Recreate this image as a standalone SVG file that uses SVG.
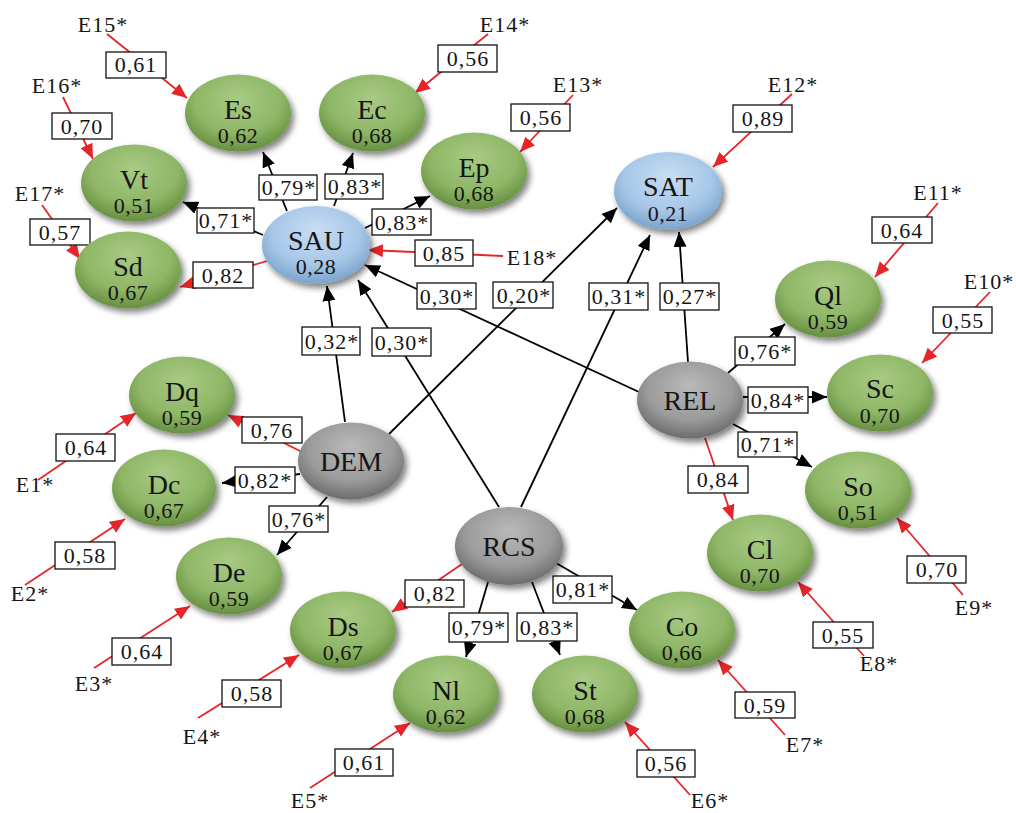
<svg xmlns="http://www.w3.org/2000/svg" width="1016" height="813" viewBox="0 0 1016 813" font-family="'Liberation Serif', 'DejaVu Serif', serif">
<style>
text{font-family:'Liberation Serif','DejaVu Serif',serif;fill:#151515}
.lb{font-size:28px;text-anchor:middle}
.vl{font-size:22px;text-anchor:middle;letter-spacing:0.5px}
.bt{font-size:22px;text-anchor:middle;letter-spacing:1px}
.et{font-size:22px;text-anchor:middle;letter-spacing:1px}
.bx{fill:#fff;stroke:#111;stroke-width:1.3}
.k{stroke:#000;stroke-width:1.8;fill:none;marker-end:url(#ak)}
.r{stroke:#e5252a;stroke-width:1.8;fill:none;marker-end:url(#ar)}
.g{fill:url(#gg);filter:url(#sh)}
.b{fill:url(#gb);filter:url(#sh)}
.y{fill:url(#gy);filter:url(#sh)}
</style>
<defs>
<marker id="ak" markerWidth="16" markerHeight="14" refX="15" refY="6.5" orient="auto" markerUnits="userSpaceOnUse"><path d="M0,0 L15,6.5 L0,13 z" fill="#000"/></marker>
<marker id="ar" markerWidth="16" markerHeight="14" refX="15" refY="6.5" orient="auto" markerUnits="userSpaceOnUse"><path d="M0,0 L15,6.5 L0,13 z" fill="#e5252a"/></marker>
<radialGradient id="gg" cx="50%" cy="38%" r="62%" fx="50%" fy="30%"><stop offset="0" stop-color="#a8ca84"/><stop offset="0.65" stop-color="#8fb767"/><stop offset="1" stop-color="#668f40"/></radialGradient>
<radialGradient id="gb" cx="50%" cy="38%" r="62%" fx="50%" fy="30%"><stop offset="0" stop-color="#c8ddf2"/><stop offset="0.65" stop-color="#a7c7e8"/><stop offset="1" stop-color="#7ba3cc"/></radialGradient>
<radialGradient id="gy" cx="50%" cy="38%" r="62%" fx="50%" fy="30%"><stop offset="0" stop-color="#b9b9b9"/><stop offset="0.65" stop-color="#9b9b9b"/><stop offset="1" stop-color="#6c6c6c"/></radialGradient>
<filter id="sh" x="-20%" y="-20%" width="150%" height="160%"><feGaussianBlur in="SourceAlpha" stdDeviation="3"/><feOffset dx="3" dy="4" result="o"/><feComponentTransfer><feFuncA type="linear" slope="0.5"/></feComponentTransfer><feMerge><feMergeNode/><feMergeNode in="SourceGraphic"/></feMerge></filter>
</defs>
<rect width="1016" height="813" fill="#fff"/>

<g id="connectors">
<line class="k" x1="287" y1="211" x2="263" y2="152"/><rect class="bx" x="259" y="175" width="58" height="25"/><text class="bt" x="289" y="195">0,79*</text>
<line class="k" x1="334" y1="206" x2="353" y2="153"/><rect class="bx" x="325" y="174" width="58" height="25"/><text class="bt" x="355" y="194">0,83*</text>
<line class="k" x1="365" y1="228" x2="430" y2="196"/><rect class="bx" x="372" y="209" width="59" height="26"/><text class="bt" x="402" y="230">0,83*</text>
<line class="k" x1="263" y1="235" x2="183" y2="202"/><rect class="bx" x="197" y="208" width="57" height="25"/><text class="bt" x="226" y="228">0,71*</text>
<line class="r" x1="267" y1="261" x2="180" y2="287"/><rect class="bx" x="193" y="262" width="60" height="26"/><text class="bt" x="223" y="283">0,82</text>
<line class="k" x1="345" y1="422" x2="327" y2="286"/><rect class="bx" x="302" y="327" width="58" height="28"/><text class="bt" x="332" y="349">0,32*</text>
<line class="k" x1="499" y1="507" x2="358" y2="280"/><rect class="bx" x="372" y="328" width="59" height="28"/><text class="bt" x="402" y="350">0,30*</text>
<line class="k" x1="639" y1="392" x2="365" y2="265"/>
<line class="k" x1="389" y1="434" x2="617" y2="208"/>
<line class="k" x1="521" y1="507" x2="650" y2="235"/>
<line class="k" x1="688" y1="362" x2="679" y2="232"/>
<rect class="bx" x="417" y="283" width="59" height="26"/><text class="bt" x="447" y="304">0,30*</text>
<rect class="bx" x="493" y="282" width="60" height="26"/><text class="bt" x="524" y="303">0,20*</text>
<rect class="bx" x="589" y="283" width="59" height="27"/><text class="bt" x="619" y="304">0,31*</text>
<rect class="bx" x="660" y="283" width="59" height="27"/><text class="bt" x="690" y="304">0,27*</text>
<line class="k" x1="728" y1="373" x2="785" y2="324"/><rect class="bx" x="735" y="337" width="60" height="28"/><text class="bt" x="765" y="359">0,76*</text>
<line class="k" x1="743" y1="397" x2="827" y2="397"/><rect class="bx" x="748" y="387" width="60" height="26"/><text class="bt" x="778" y="408">0,84*</text>
<line class="k" x1="733" y1="424" x2="812" y2="467"/><rect class="bx" x="738" y="432" width="59" height="25"/><text class="bt" x="768" y="452">0,71*</text>
<line class="r" x1="705" y1="438" x2="733" y2="520"/><rect class="bx" x="688" y="466" width="60" height="27"/><text class="bt" x="718" y="487">0,84</text>
<line class="r" x1="302" y1="452" x2="228" y2="415"/><rect class="bx" x="242" y="417" width="60" height="26"/><text class="bt" x="272" y="438">0,76</text>
<line class="k" x1="300" y1="474" x2="222" y2="483"/><rect class="bx" x="235" y="467" width="60" height="26"/><text class="bt" x="265" y="488">0,82*</text>
<line class="k" x1="327" y1="497" x2="277" y2="555"/><rect class="bx" x="269" y="506" width="59" height="26"/><text class="bt" x="299" y="527">0,76*</text>
<line class="r" x1="462" y1="564" x2="392" y2="612"/><rect class="bx" x="405" y="580" width="59" height="27"/><text class="bt" x="435" y="601">0,82</text>
<line class="k" x1="488" y1="582" x2="466" y2="657"/><rect class="bx" x="449" y="613" width="59" height="29"/><text class="bt" x="479" y="635">0,79*</text>
<line class="k" x1="532" y1="582" x2="560" y2="655"/><rect class="bx" x="517" y="613" width="60" height="28"/><text class="bt" x="547" y="635">0,83*</text>
<line class="k" x1="556" y1="563" x2="637" y2="610"/><rect class="bx" x="553" y="576" width="59" height="27"/><text class="bt" x="583" y="597">0,81*</text>
<line class="r" x1="107" y1="34" x2="187" y2="98"/><rect class="bx" x="106" y="52" width="60" height="26"/><text class="bt" x="136" y="72">0,61</text>
<line class="r" x1="488" y1="34" x2="415" y2="93"/><rect class="bx" x="438" y="45" width="59" height="27"/><text class="bt" x="468" y="66">0,56</text>
<line class="r" x1="573" y1="95" x2="520" y2="152"/><rect class="bx" x="511" y="104" width="59" height="27"/><text class="bt" x="541" y="125">0,56</text>
<line class="r" x1="792" y1="94" x2="713" y2="167"/><rect class="bx" x="733" y="105" width="59" height="27"/><text class="bt" x="763" y="126">0,89</text>
<line class="r" x1="63" y1="97" x2="93" y2="159"/><rect class="bx" x="52" y="113" width="60" height="26"/><text class="bt" x="82" y="134">0,70</text>
<line class="r" x1="42" y1="205" x2="80" y2="259"/><rect class="bx" x="30" y="219" width="60" height="26"/><text class="bt" x="60" y="240">0,57</text>
<line class="r" x1="938" y1="203" x2="875" y2="277"/><rect class="bx" x="872" y="217" width="60" height="26"/><text class="bt" x="902" y="238">0,64</text>
<line class="r" x1="990" y1="292" x2="922" y2="363"/><rect class="bx" x="933" y="307" width="59" height="26"/><text class="bt" x="963" y="328">0,55</text>
<line class="r" x1="963" y1="595" x2="897" y2="518"/><rect class="bx" x="907" y="556" width="59" height="27"/><text class="bt" x="937" y="577">0,70</text>
<line class="r" x1="864" y1="656" x2="798" y2="582"/><rect class="bx" x="813" y="622" width="60" height="26"/><text class="bt" x="843" y="643">0,55</text>
<line class="r" x1="785" y1="735" x2="718" y2="660"/><rect class="bx" x="735" y="692" width="60" height="26"/><text class="bt" x="765" y="713">0,59</text>
<line class="r" x1="690" y1="795" x2="625" y2="722"/><rect class="bx" x="637" y="750" width="58" height="27"/><text class="bt" x="666" y="771">0,56</text>
<line class="r" x1="310" y1="788" x2="410" y2="723"/><rect class="bx" x="335" y="749" width="58" height="27"/><text class="bt" x="364" y="770">0,61</text>
<line class="r" x1="198" y1="718" x2="299" y2="655"/><rect class="bx" x="222" y="680" width="59" height="27"/><text class="bt" x="252" y="701">0,58</text>
<line class="r" x1="94" y1="668" x2="190" y2="606"/><rect class="bx" x="112" y="638" width="59" height="27"/><text class="bt" x="142" y="659">0,64</text>
<line class="r" x1="25" y1="585" x2="125" y2="519"/><rect class="bx" x="55" y="542" width="60" height="27"/><text class="bt" x="85" y="563">0,58</text>
<line class="r" x1="38" y1="480" x2="136" y2="413"/><rect class="bx" x="56" y="434" width="59" height="27"/><text class="bt" x="86" y="455">0,64</text>
<line class="r" x1="503" y1="256" x2="368" y2="250"/><rect class="bx" x="415" y="240" width="58" height="26"/><text class="bt" x="444" y="261">0,85</text>
</g>

<g id="errors">
<text class="et" x="103" y="32">E15*</text>
<text class="et" x="505" y="32">E14*</text>
<text class="et" x="578" y="92">E13*</text>
<text class="et" x="793" y="92">E12*</text>
<text class="et" x="57" y="93">E16*</text>
<text class="et" x="40" y="201">E17*</text>
<text class="et" x="938" y="200">E11*</text>
<text class="et" x="989" y="289">E10*</text>
<text class="et" x="974" y="615">E9*</text>
<text class="et" x="879" y="671">E8*</text>
<text class="et" x="805" y="752">E7*</text>
<text class="et" x="710" y="808">E6*</text>
<text class="et" x="310" y="808">E5*</text>
<text class="et" x="202" y="744">E4*</text>
<text class="et" x="94" y="691">E3*</text>
<text class="et" x="30" y="601">E2*</text>
<text class="et" x="35" y="492">E1*</text>
<text class="et" x="532" y="265">E18*</text>
</g>

<g id="Es"><ellipse class="g" cx="238" cy="113" rx="53" ry="38.5"/><text class="lb" x="238" y="119">Es</text><text class="vl" x="238" y="143">0,62</text></g>
<g id="Ec"><ellipse class="g" cx="372" cy="113" rx="53" ry="38.5"/><text class="lb" x="372" y="119">Ec</text><text class="vl" x="372" y="143">0,68</text></g>
<g id="Ep"><ellipse class="g" cx="474" cy="171" rx="53" ry="38.5"/><text class="lb" x="474" y="177">Ep</text><text class="vl" x="474" y="201">0,68</text></g>
<g id="Vt"><ellipse class="g" cx="134" cy="183" rx="53" ry="38.5"/><text class="lb" x="134" y="189">Vt</text><text class="vl" x="134" y="213">0,51</text></g>
<g id="Sd"><ellipse class="g" cx="128" cy="270" rx="53" ry="38.5"/><text class="lb" x="128" y="276">Sd</text><text class="vl" x="128" y="300">0,67</text></g>
<g id="SAU"><ellipse class="b" cx="316" cy="245" rx="54" ry="39"/><text class="lb" x="316" y="250">SAU</text><text class="vl" x="316" y="274">0,28</text></g>
<g id="SAT"><ellipse class="b" cx="668" cy="191" rx="54" ry="39"/><text class="lb" x="668" y="196">SAT</text><text class="vl" x="668" y="221">0,21</text></g>
<g id="Ql"><ellipse class="g" cx="828" cy="299" rx="53" ry="38.5"/><text class="lb" x="828" y="305">Ql</text><text class="vl" x="828" y="329">0,59</text></g>
<g id="Sc"><ellipse class="g" cx="880" cy="393" rx="53" ry="38.5"/><text class="lb" x="880" y="398">Sc</text><text class="vl" x="880" y="423">0,70</text></g>
<g id="REL"><ellipse class="y" cx="690" cy="400" rx="53" ry="38.5"/><text class="lb" x="690" y="410">REL</text></g>
<g id="So"><ellipse class="g" cx="858" cy="490" rx="53" ry="38.5"/><text class="lb" x="858" y="496">So</text><text class="vl" x="858" y="520">0,51</text></g>
<g id="Cl"><ellipse class="g" cx="760" cy="553" rx="53" ry="38.5"/><text class="lb" x="760" y="559">Cl</text><text class="vl" x="760" y="583">0,70</text></g>
<g id="Co"><ellipse class="g" cx="682" cy="630" rx="53" ry="38.5"/><text class="lb" x="682" y="636">Co</text><text class="vl" x="682" y="660">0,66</text></g>
<g id="St"><ellipse class="g" cx="585" cy="694" rx="53" ry="38.5"/><text class="lb" x="585" y="700">St</text><text class="vl" x="585" y="724">0,68</text></g>
<g id="Nl"><ellipse class="g" cx="446" cy="694" rx="53" ry="38.5"/><text class="lb" x="446" y="700">Nl</text><text class="vl" x="446" y="724">0,62</text></g>
<g id="Ds"><ellipse class="g" cx="343" cy="630" rx="53" ry="38.5"/><text class="lb" x="343" y="636">Ds</text><text class="vl" x="343" y="660">0,67</text></g>
<g id="RCS"><ellipse class="y" cx="509" cy="546" rx="54" ry="39"/><text class="lb" x="509" y="556">RCS</text></g>
<g id="DEM"><ellipse class="y" cx="351" cy="461" rx="53" ry="38.5"/><text class="lb" x="351" y="471">DEM</text></g>
<g id="Dq"><ellipse class="g" cx="182" cy="395" rx="53" ry="38.5"/><text class="lb" x="182" y="401">Dq</text><text class="vl" x="182" y="425">0,59</text></g>
<g id="Dc"><ellipse class="g" cx="164" cy="488" rx="52" ry="38.5"/><text class="lb" x="164" y="494">Dc</text><text class="vl" x="164" y="518">0,67</text></g>
<g id="De"><ellipse class="g" cx="229" cy="576" rx="53" ry="38.5"/><text class="lb" x="229" y="582">De</text><text class="vl" x="229" y="606">0,59</text></g>
</svg>
